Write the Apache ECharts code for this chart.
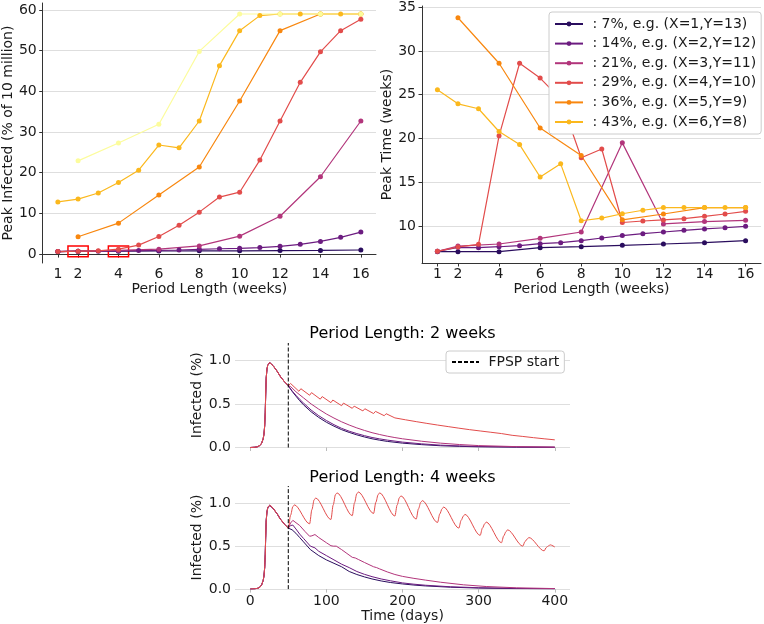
<!DOCTYPE html>
<html><head><meta charset="utf-8">
<script src="https://cdn.jsdelivr.net/npm/echarts@6/dist/echarts.min.js"></script>
<style>html,body{margin:0;padding:0;background:#fff}#c{width:764px;height:624px}</style>
</head><body><div id="c"></div>
<script>
const FONT = 'DejaVu Sans';

// ---------- Top panels: period length (weeks) ----------
const periodWeeksAll = [1,2,3,4,5,6,7,8,9,10,11,12,13,14,15,16];
const periodWeeksSparse = [1,2,4,6,8,10,12,14,16];
const periodWeeksEven = [2,4,6,8,10,12,14,16];
const xTickWeeks = [1,2,4,6,8,10,12,14,16];
const yTicksInfected = [0,10,20,30,40,50,60];
const yTicksTime = [10,15,20,25,30,35];
const highlightedWeeks = [2,4];

const seriesLabels = [
  ': 7%, e.g. (X=1,Y=13)', ': 14%, e.g. (X=2,Y=12)', ': 21%, e.g. (X=3,Y=11)',
  ': 29%, e.g. (X=4,Y=10)', ': 36%, e.g. (X=5,Y=9)', ': 43%, e.g. (X=6,Y=8)',
  ': 50%, e.g. (X=7,Y=7)'
];
const seriesColors = ['#2a0d5e','#6c1c80','#b2357b','#e24c4b','#f8870f','#fbb81d','#fcfc9c'];

// Peak infected (% of 10 million)
const infected07 = [0.6,0.7,0.7,0.75,0.8,0.8,0.85,0.9,1.0];                       // sparse weeks
const infected14 = [0.6,0.7,0.7,0.8,0.85,0.9,1.0,1.15,1.3,1.4,1.6,1.9,2.4,3.1,4.1,5.4]; // all weeks
const infected21 = [0.6,0.7,0.9,1.2,2.0,4.4,9.3,19.0,32.7];                        // sparse weeks
const infected29 = [0.6,0.7,0.8,1.2,2.2,4.3,7.1,10.3,14.0,15.2,23.1,32.7,42.2,49.7,54.9,57.7]; // all
const infected36 = [4.25,7.6,14.5,21.4,37.6,54.9,59.0,59.0];                       // even weeks
const infected43 = [12.8,13.5,15.0,17.6,20.6,26.8,26.1,32.7,46.3,54.9,58.6,59.0,59.0,59.0,59.0,59.0]; // all
const infected50 = [22.9,27.3,31.9,49.8,59.0,59.0,59.0,59.0];                      // even weeks

// Peak time (weeks)
const time07 = [7.06,7.06,7.06,7.52,7.63,7.79,7.94,8.09,8.32];
const time14 = [7.1,7.56,7.52,7.63,7.75,7.98,8.09,8.32,8.63,8.9,9.12,9.31,9.5,9.66,9.8,9.96];
const time21 = [7.1,7.7,7.94,8.59,9.31,19.5,10.23,10.5,10.65];
const time29 = [7.1,7.6,7.9,20.3,28.6,26.9,24.5,17.8,18.8,10.4,10.57,10.69,10.84,11.1,11.37,11.68];
const time36 = [33.8,28.6,21.2,18.05,10.7,11.37,12.1,12.1];
const time43 = [25.56,23.96,23.4,20.8,19.3,15.6,17.1,10.6,10.9,11.4,11.8,12.1,12.1,12.1,12.1,12.1];

const topDefs = [
  {weeks: periodWeeksSparse, inf: infected07, time: time07},
  {weeks: periodWeeksAll,    inf: infected14, time: time14},
  {weeks: periodWeeksSparse, inf: infected21, time: time21},
  {weeks: periodWeeksAll,    inf: infected29, time: time29},
  {weeks: periodWeeksEven,   inf: infected36, time: time36},
  {weeks: periodWeeksAll,    inf: infected43, time: time43},
  {weeks: periodWeeksEven,   inf: infected50, time: null}
];

// ---------- Bottom panels: infected over time (days) ----------
const dayTicks = [0,100,200,300,400];
const infectedTicks = [0,0.5,1.0];
const fpspStartDay = 50;
const preDays = [0,6,10,13,15,17,18,19,19.7,20.3,21,22,23,24,25.5,27,30,35,40,45];
const preVals = [0,0.003,0.01,0.025,0.05,0.1,0.15,0.25,0.4,0.6,0.8,0.9,0.945,0.965,0.975,0.97,0.94,0.88,0.81,0.755];

// 2-week period
const red2wk = [[50,0.71],[53,0.735],[64,0.645],[66.5,0.675],[78,0.60],[80.5,0.63],[92,0.555],[94.5,0.585],
  [106,0.515],[108.5,0.545],[120,0.48],[122.5,0.51],[134,0.45],[136.5,0.475],[148,0.42],[150.5,0.445],
  [162,0.39],[164.5,0.415],[176,0.365],[178.5,0.388],[190,0.34],[192.5,0.362],[204,0.318],[206.5,0.338],
  [218,0.297],[220.5,0.316],[232,0.277],[234.5,0.295],[246,0.258],[248.5,0.275],[260,0.24],[262.5,0.256],
  [274,0.222],[276.5,0.237],[288,0.205],[290.5,0.219],[302,0.19],[304.5,0.203],[316,0.175],[318.5,0.187],
  [330,0.16],[332.5,0.171],[344,0.14],[346.5,0.15],[358,0.127],[360.5,0.136],[372,0.113],[374.5,0.121],
  [386,0.1],[388.5,0.107],[400,0.088]];
const mag2wk = [[50,0.71],[53,0.7],[60,0.64],[70,0.57],[80,0.5],[90,0.44],[100,0.385],[110,0.338],[120,0.295],
  [130,0.258],[140,0.225],[150,0.196],[160,0.17],[170,0.149],[180,0.13],[190,0.114],[200,0.1],[225,0.072],
  [250,0.05],[275,0.034],[300,0.022],[350,0.01],[400,0.005]];
const pur2wk = [[50,0.71],[55,0.65],[60,0.6],[65,0.553],[70,0.51],[80,0.43],[90,0.365],[100,0.31],[110,0.262],
  [120,0.22],[130,0.187],[140,0.16],[150,0.136],[160,0.115],[170,0.099],[180,0.085],[200,0.062],[225,0.042],
  [250,0.027],[275,0.018],[300,0.012],[350,0.006],[400,0.003]];
const dark2wk = [[50,0.71],[55,0.645],[60,0.59],[65,0.537],[70,0.49],[80,0.41],[90,0.345],[100,0.29],[110,0.245],
  [120,0.205],[130,0.173],[140,0.145],[150,0.121],[160,0.1],[170,0.084],[180,0.07],[200,0.05],[225,0.033],
  [250,0.02],[275,0.013],[300,0.008],[350,0.004],[400,0.002]];

// 4-week period
const red4wk = [[50,0.71],[53,0.86],[56,0.96],[58,0.98],[78,0.76],[81,0.925],[84,1.04],[86,1.06],
  [106,0.81],[109,0.98],[112,1.10],[114,1.12],[134,0.855],[137,1.005],[140,1.11],[142,1.13],
  [162,0.88],[165,1.01],[168,1.10],[170,1.12],[190,0.85],[193,0.98],[196,1.065],[198,1.085],
  [218,0.815],[221,0.935],[224,1.01],[226,1.03],[246,0.775],[249,0.875],[252,0.935],[254,0.955],
  [274,0.71],[277,0.80],[280,0.85],[282,0.87],[302,0.625],[305,0.71],[308,0.76],[310,0.78],
  [330,0.54],[333,0.62],[336,0.67],[338,0.69],[358,0.50],[361,0.555],[364,0.585],[366,0.60],
  [386,0.445],[389,0.485],[392,0.505],[394,0.515],[400,0.49]];
const mag4wk = [[50,0.71],[53,0.77],[56,0.80],[58,0.80],[65,0.74],[72,0.67],[78,0.615],[81,0.62],[85,0.635],
  [90,0.6],[100,0.54],[106,0.505],[109,0.5],[113,0.5],[120,0.46],[127,0.415],[134,0.37],[138,0.362],[142,0.345],
  [150,0.31],[162,0.26],[166,0.25],[170,0.235],[180,0.2],[190,0.17],[200,0.148],[215,0.125],[230,0.105],
  [250,0.08],[280,0.05],[310,0.03],[350,0.015],[400,0.006]];
const pur4wk = [[50,0.71],[53,0.74],[56,0.745],[60,0.70],[65,0.64],[70,0.59],[79,0.50],[85,0.48],[90,0.44],
  [100,0.39],[110,0.34],[120,0.29],[130,0.25],[140,0.205],[150,0.172],[160,0.145],[172,0.118],[184,0.097],
  [200,0.072],[215,0.057],[230,0.045],[263,0.027],[300,0.016],[350,0.008],[400,0.004]];
const dark4wk = [[50,0.71],[55,0.69],[60,0.65],[65,0.6],[70,0.55],[79,0.46],[90,0.39],[100,0.34],[110,0.30],
  [120,0.26],[130,0.205],[140,0.17],[150,0.142],[160,0.118],[172,0.095],[184,0.077],[200,0.06],[215,0.047],
  [230,0.037],[263,0.022],[300,0.012],[350,0.006],[400,0.003]];

// ---------- build ----------
const AX = '#333333', TXT = '#1a1a1a', GRID = '#dedede';
const pairs = (xs, ys) => xs.map((x, i) => [x, ys[i]]);
const withPre = post => pairs(preDays, preVals).concat(post);

const chart = echarts.init(document.getElementById('c'), null, {renderer: 'canvas'});

function topX(idx) {
  return {
    type: 'value', gridIndex: idx, min: 0.25, max: 16.75,
    axisLine: {show: true, lineStyle: {color: AX, width: 1}},
    axisTick: {show: true, length: 3.5, lineStyle: {color: AX}, customValues: xTickWeeks},
    axisLabel: {customValues: xTickWeeks, fontSize: 14, color: TXT, fontFamily: FONT, margin: 4},
    splitLine: {show: false},
    name: 'Period Length (weeks)', nameLocation: 'middle', nameGap: 16,
    nameTextStyle: {fontSize: 14, color: TXT, fontFamily: FONT}
  };
}
function topY(idx, min, max, ticks, name, gap) {
  return {
    type: 'value', gridIndex: idx, min: min, max: max,
    axisLine: {show: true, lineStyle: {color: AX, width: 1}},
    axisTick: {show: true, length: 3.5, lineStyle: {color: AX}, customValues: ticks},
    axisLabel: {customValues: ticks, fontSize: 14, color: TXT, fontFamily: FONT, margin: 6},
    splitLine: {show: true, lineStyle: {color: GRID, width: 1}},
    name: name, nameLocation: 'middle', nameGap: gap,
    nameTextStyle: {fontSize: 14, color: TXT, fontFamily: FONT}
  };
}
function botX(idx, showLabels) {
  return {
    type: 'value', gridIndex: idx, min: -20, max: 420,
    axisLine: {show: false},
    axisTick: {show: true, length: 3.5, lineStyle: {color: '#bbbbbb'}, customValues: dayTicks},
    axisLabel: {show: showLabels, customValues: dayTicks, fontSize: 14, color: TXT, fontFamily: FONT, margin: 5},
    splitLine: {show: false},
    name: showLabels ? 'Time (days)' : '', nameLocation: 'middle', nameGap: 15,
    nameTextStyle: {fontSize: 14, color: TXT, fontFamily: FONT}
  };
}
function botY(idx) {
  return {
    type: 'value', gridIndex: idx, min: 0, max: 1.2,
    axisLine: {show: false},
    axisTick: {show: false, customValues: infectedTicks},
    axisLabel: {customValues: infectedTicks, fontSize: 14, color: TXT, fontFamily: FONT, margin: 4,
      formatter: v => v.toFixed(1)},
    splitLine: {show: true, lineStyle: {color: GRID, width: 1}},
    name: 'Infected (%)', nameLocation: 'middle', nameGap: 27,
    nameTextStyle: {fontSize: 14, color: TXT, fontFamily: FONT}
  };
}

const series = [];
topDefs.forEach((d, k) => {
  const s = {
    name: seriesLabels[k], type: 'line', xAxisIndex: 0, yAxisIndex: 0,
    data: pairs(d.weeks, d.inf), symbol: 'circle', symbolSize: 5,
    lineStyle: {width: 1.2, color: seriesColors[k]}, itemStyle: {color: seriesColors[k]},
    animation: false
  };
  if (k === 0) {
    s.markArea = {
      silent: true,
      itemStyle: {color: 'rgba(0,0,0,0)', borderColor: '#ff0000', borderWidth: 1.5},
      data: highlightedWeeks.map(w => [{coord: [w - 0.5, -0.65]}, {coord: [w + 0.5, 1.95]}])
    };
  }
  series.push(s);
});
topDefs.forEach((d, k) => {
  if (!d.time) return;
  series.push({
    name: seriesLabels[k], type: 'line', xAxisIndex: 1, yAxisIndex: 1,
    data: pairs(d.weeks, d.time), symbol: 'circle', symbolSize: 5,
    lineStyle: {width: 1.2, color: seriesColors[k]}, itemStyle: {color: seriesColors[k]},
    animation: false
  });
});
const bottomSets = [
  [dark2wk, pur2wk, mag2wk, red2wk],
  [dark4wk, pur4wk, mag4wk, red4wk]
];
bottomSets.forEach((set, p) => {
  set.forEach((post, k) => {
    const isRed4 = (p === 1 && k === 3);
    series.push({
      name: 'p' + p + '_' + k, type: 'line', xAxisIndex: 2 + p, yAxisIndex: 2 + p,
      data: withPre(post), showSymbol: false, symbol: 'none',
      smooth: isRed4 ? 0.3 : false, smoothMonotone: 'x',
      lineStyle: {width: 1, color: seriesColors[k]}, animation: false
    });
  });
  series.push({
    name: 'FPSP start', type: 'line', xAxisIndex: 2 + p, yAxisIndex: 2 + p,
    data: [[fpspStartDay, 0], [fpspStartDay, 1.2]], symbol: 'none',
    lineStyle: {width: 1, color: '#000', type: [4, 2]}, itemStyle: {color: 'rgba(0,0,0,0)'}, animation: false
  });
});

chart.setOption({
  backgroundColor: '#fff',
  animation: false,
  textStyle: {fontFamily: FONT},
  grid: [
    {left: 38, top: 3, width: 338, height: 260},
    {left: 422, top: 6, width: 339, height: 257},
    {left: 235, top: 343, width: 335, height: 104.5},
    {left: 235, top: 486, width: 335, height: 103.5}
  ],
  xAxis: [topX(0), topX(1), botX(2, false), botX(3, true)],
  yAxis: [
    topY(0, -2.2, 61.7, yTicksInfected, 'Peak Infected (% of 10 million)', 22),
    topY(1, 5.77, 35.14, yTicksTime, 'Peak Time (weeks)', 22),
    botY(2), botY(3)
  ],
  legend: [
    {
      data: seriesLabels.slice(0, 6), orient: 'vertical', left: 549, top: 12,
      itemWidth: 28, itemHeight: 6, itemGap: 5.6, padding: [5, 5, 5, 5],
      backgroundColor: '#fff', borderColor: '#cccccc', borderWidth: 1, borderRadius: 3,
      formatter: n => ' ' + n, selectedMode: false,
      textStyle: {fontSize: 14, color: TXT, fontFamily: FONT}
    },
    {
      data: [{name: 'FPSP start', itemStyle: {opacity: 0, color: 'rgba(0,0,0,0)', borderWidth: 0}}],
      orient: 'vertical', left: 446, top: 351,
      itemWidth: 27, itemHeight: 6, padding: [4, 5, 4, 5],
      backgroundColor: '#fff', borderColor: '#cccccc', borderWidth: 1, borderRadius: 3,
      formatter: n => ' ' + n, selectedMode: false,
      textStyle: {fontSize: 14, color: TXT, fontFamily: FONT}
    }
  ],
  graphic: [
    {type: 'text', x: 402.5, y: 334, style: {text: 'Period Length: 2 weeks', font: '16px "DejaVu Sans"',
      fill: '#000', textAlign: 'center', textVerticalAlign: 'middle'}},
    {type: 'text', x: 402.5, y: 478, style: {text: 'Period Length: 4 weeks', font: '16px "DejaVu Sans"',
      fill: '#000', textAlign: 'center', textVerticalAlign: 'middle'}}
  ],
  series: series
});
</script></body></html>
